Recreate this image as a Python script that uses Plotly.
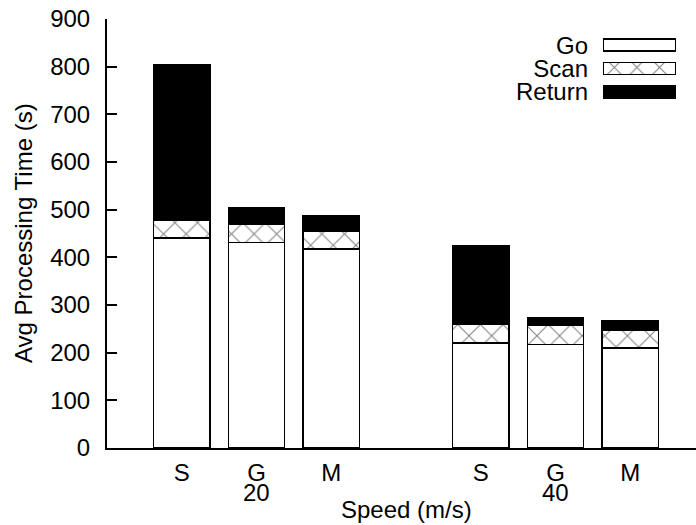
import plotly.graph_objects as go

# ---- data ----
speeds = ["20", "40"]
methods = ["S", "G", "M"]
go_time = [441, 431, 417, 220, 217, 210]
scan_time = [37, 39, 38, 40, 40, 37]
return_time = [325, 35, 33, 164, 17, 19]
series_names = ["Go", "Scan", "Return"]
y_ticks = [0, 100, 200, 300, 400, 500, 600, 700, 800, 900]

# positions: groups separated by one empty slot
xpos = []
xlab = []
for gi, s in enumerate(speeds):
    for mi, m in enumerate(methods):
        xpos.append(gi * (len(methods) + 1) + mi)
        xlab.append(m)

FONT = "Liberation Sans, Arial, sans-serif"
FS = 24
W, H = 696, 525
L, R, T, B = 107, 0, 19, 77
pw, ph = W - L - R, H - T - B

def px_x(px):
    return (px - L) / pw

def px_y(py):
    return (H - B - py) / ph

styles = [
    dict(color="white", line=dict(color="black", width=1.5)),
    dict(color="white", line=dict(color="black", width=1.5),
         pattern=dict(shape="x", fgcolor="black", bgcolor="white", size=16, solidity=0.12)),
    dict(color="black", line=dict(color="black", width=1.5)),
]

fig = go.Figure()
for name, vals, st in zip(series_names, [go_time, scan_time, return_time], styles):
    fig.add_trace(go.Bar(x=xpos, y=vals, name=name, width=0.75, marker=st,
                         showlegend=False, xaxis="x", yaxis="y"))

# legend drawn as a small bar subplot (text right-aligned left of the swatch)
legend_len = [1, 1, 1]
for name, ln, st in zip(series_names, legend_len, styles):
    fig.add_trace(go.Bar(x=[ln], y=[name], orientation="h", width=0.52, marker=st,
                         showlegend=False, xaxis="x3", yaxis="y3"))

xr = [-1.0, -1.0 + pw / 74.75]

fig.update_layout(
    width=W, height=H,
    margin=dict(l=L, r=R, t=T, b=B),
    paper_bgcolor="white", plot_bgcolor="white",
    barmode="stack",
    font=dict(family=FONT, size=FS, color="black"),
    xaxis=dict(range=xr, tickmode="array", tickvals=xpos, ticktext=xlab, ticks="",
               showgrid=False, zeroline=False, showline=True, linecolor="black",
               linewidth=2, tickfont=dict(size=FS), ticklabelstandoff=2),
    xaxis2=dict(range=xr, overlaying="x", side="top", tickmode="array", tickvals=xpos,
                ticks="inside", ticklen=10, tickwidth=1.5, tickcolor="black",
                showticklabels=False, showgrid=False, zeroline=False, showline=True,
                linecolor="black", linewidth=2),
    yaxis=dict(range=[0, 900], tickmode="array", tickvals=y_ticks, ticks="inside",
               ticklen=10, tickwidth=2, tickcolor="black", showgrid=False, zeroline=False,
               showline=True, linecolor="black", linewidth=2, tickfont=dict(size=FS),
               ticklabelstandoff=10),
    yaxis2=dict(range=[0, 900], overlaying="y", side="right", tickmode="array",
                tickvals=y_ticks, ticks="inside", ticklen=3, tickwidth=2,
                tickcolor="black", showticklabels=False, showgrid=False,
                zeroline=False, showline=False),
    xaxis3=dict(domain=[px_x(603), px_x(676)], range=[0, 1], anchor="y3", visible=False),
    yaxis3=dict(domain=[px_y(103.5), px_y(33.5)], anchor="x3", autorange="reversed",
                tickmode="array", tickvals=series_names, ticktext=series_names,
                showgrid=False, zeroline=False, showline=False, ticks="",
                tickfont=dict(size=FS), ticklabelstandoff=14),
    annotations=[
        dict(text="Avg Processing Time (s)", xref="paper", yref="paper",
             x=px_x(23), y=px_y(233), textangle=-90, showarrow=False,
             xanchor="center", yanchor="middle", font=dict(size=FS)),
        dict(text="Speed (m/s)", xref="x", yref="paper", x=3, y=px_y(509),
             showarrow=False, xanchor="center", yanchor="middle", font=dict(size=FS)),
    ] + [
        dict(text=s, xref="x", yref="paper", x=gi * (len(methods) + 1) + 1, y=px_y(492),
             showarrow=False, xanchor="center", yanchor="middle", font=dict(size=FS))
        for gi, s in enumerate(speeds)
    ],
)

fig.write_html("out.html")
